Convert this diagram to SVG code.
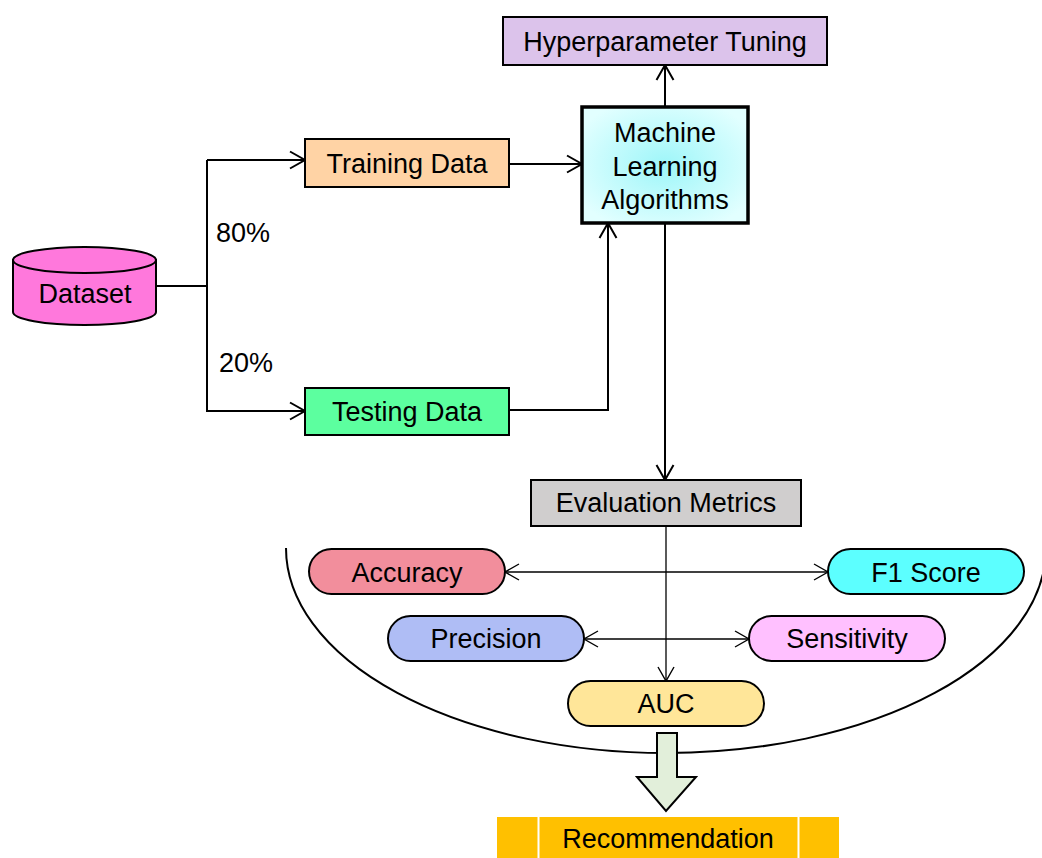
<svg xmlns="http://www.w3.org/2000/svg" width="1042" height="858" viewBox="0 0 1042 858">
<style>
text{font-family:"Liberation Sans",Arial,sans-serif;font-size:27px;fill:#000;text-anchor:middle}
.box{stroke:#000;stroke-width:2}
.pill{stroke:#000;stroke-width:2}
.c{fill:none;stroke:#000;stroke-width:2}
.t{fill:none;stroke:#000;stroke-width:1.3}
</style>
<defs>
<marker id="a" markerUnits="userSpaceOnUse" markerWidth="20" markerHeight="20" viewBox="0 0 20 20" refX="17" refY="10" orient="auto">
<path d="M2,1.5 L17,10 L2,18.5" fill="none" stroke="#000" stroke-width="2"/>
</marker>
<marker id="s" markerUnits="userSpaceOnUse" markerWidth="20" markerHeight="20" viewBox="0 0 20 20" refX="17" refY="10" orient="auto-start-reverse">
<path d="M3,2 L17,10 L3,18" fill="none" stroke="#000" stroke-width="1.4"/>
</marker>
<radialGradient id="mlg" cx="0.5" cy="0.5" r="0.6">
<stop offset="0" stop-color="#9EF6F9"/>
<stop offset="1" stop-color="#E2FFFF"/>
</radialGradient>
</defs>

<g id="connectors">
<path class="c" d="M156,286 H207"/>
<path class="c" d="M207,160 V412"/>
<path class="c" d="M207,160 H305" marker-end="url(#a)"/>
<path class="c" d="M207,411 H305" marker-end="url(#a)"/>
<path class="c" d="M509,164 H582" marker-end="url(#a)"/>
<path class="c" d="M509,410 H608 V223" marker-end="url(#a)"/>
<path class="c" d="M665,107 V65" marker-end="url(#a)"/>
<path class="c" d="M665,223 V480" marker-end="url(#a)"/>
<path class="t" d="M666,526 V681" marker-end="url(#s)"/>
<path class="t" d="M505,572 H828" marker-start="url(#s)" marker-end="url(#s)"/>
<path class="t" d="M584,639 H749" marker-start="url(#s)" marker-end="url(#s)"/>
<path class="c" d="M286,548 A380,205 0 0 0 1046,548"/>
</g>

<g id="label-80"><text x="243" y="242">80%</text></g>
<g id="label-20"><text x="246" y="372">20%</text></g>

<g id="dataset">
<path d="M13,260 V312 A71.5,13 0 0 0 156,312 V260 Z" fill="#FF78DC" stroke="#000" stroke-width="2"/>
<ellipse cx="84.5" cy="260" rx="71.5" ry="13" fill="#FF78DC" stroke="#000" stroke-width="2"/>
<text x="85" y="303">Dataset</text>
</g>

<g id="training">
<rect class="box" x="305" y="139" width="204" height="48" fill="#FFD3A5"/>
<text x="407" y="173">Training Data</text>
</g>

<g id="testing">
<rect class="box" x="305" y="388" width="204" height="47" fill="#5CFF9F"/>
<text x="407" y="421">Testing Data</text>
</g>

<g id="ml">
<rect x="582" y="107" width="166" height="116" fill="url(#mlg)" stroke="#000" stroke-width="3.5"/>
<text x="665" y="142">Machine</text>
<text x="665" y="176">Learning</text>
<text x="665" y="209">Algorithms</text>
</g>

<g id="hyper">
<rect class="box" x="503" y="17" width="324" height="48" fill="#DCC3EB"/>
<text x="665" y="51">Hyperparameter Tuning</text>
</g>

<g id="eval">
<rect class="box" x="531" y="480" width="270" height="46" fill="#D0CECE"/>
<text x="666" y="512">Evaluation Metrics</text>
</g>

<g id="accuracy">
<rect class="pill" x="309" y="549" width="196" height="45" rx="22.5" fill="#F28E9C"/>
<text x="407" y="582">Accuracy</text>
</g>
<g id="f1">
<rect class="pill" x="828" y="549" width="196" height="45" rx="22.5" fill="#5CFFFF"/>
<text x="926" y="582">F1 Score</text>
</g>
<g id="precision">
<rect class="pill" x="388" y="616" width="196" height="45" rx="22.5" fill="#AFBDF5"/>
<text x="486" y="648">Precision</text>
</g>
<g id="sensitivity">
<rect class="pill" x="749" y="616" width="196" height="45" rx="22.5" fill="#FFC0FF"/>
<text x="847" y="648">Sensitivity</text>
</g>
<g id="auc">
<rect class="pill" x="568" y="681" width="196" height="45" rx="22.5" fill="#FFE699"/>
<text x="666" y="713">AUC</text>
</g>

<g id="block-arrow">
<path d="M657,733 H677 V777 H696 L666,811 L637,777 H657 Z" fill="#E2EFDA" stroke="#000" stroke-width="2" stroke-linejoin="miter"/>
</g>

<g id="recommendation">
<rect x="497" y="817" width="342" height="41" fill="#FFC000"/>
<path d="M538.5,817 V858 M798.5,817 V858" stroke="#fff" stroke-width="2"/>
<text x="668" y="848">Recommendation</text>
</g>
</svg>
